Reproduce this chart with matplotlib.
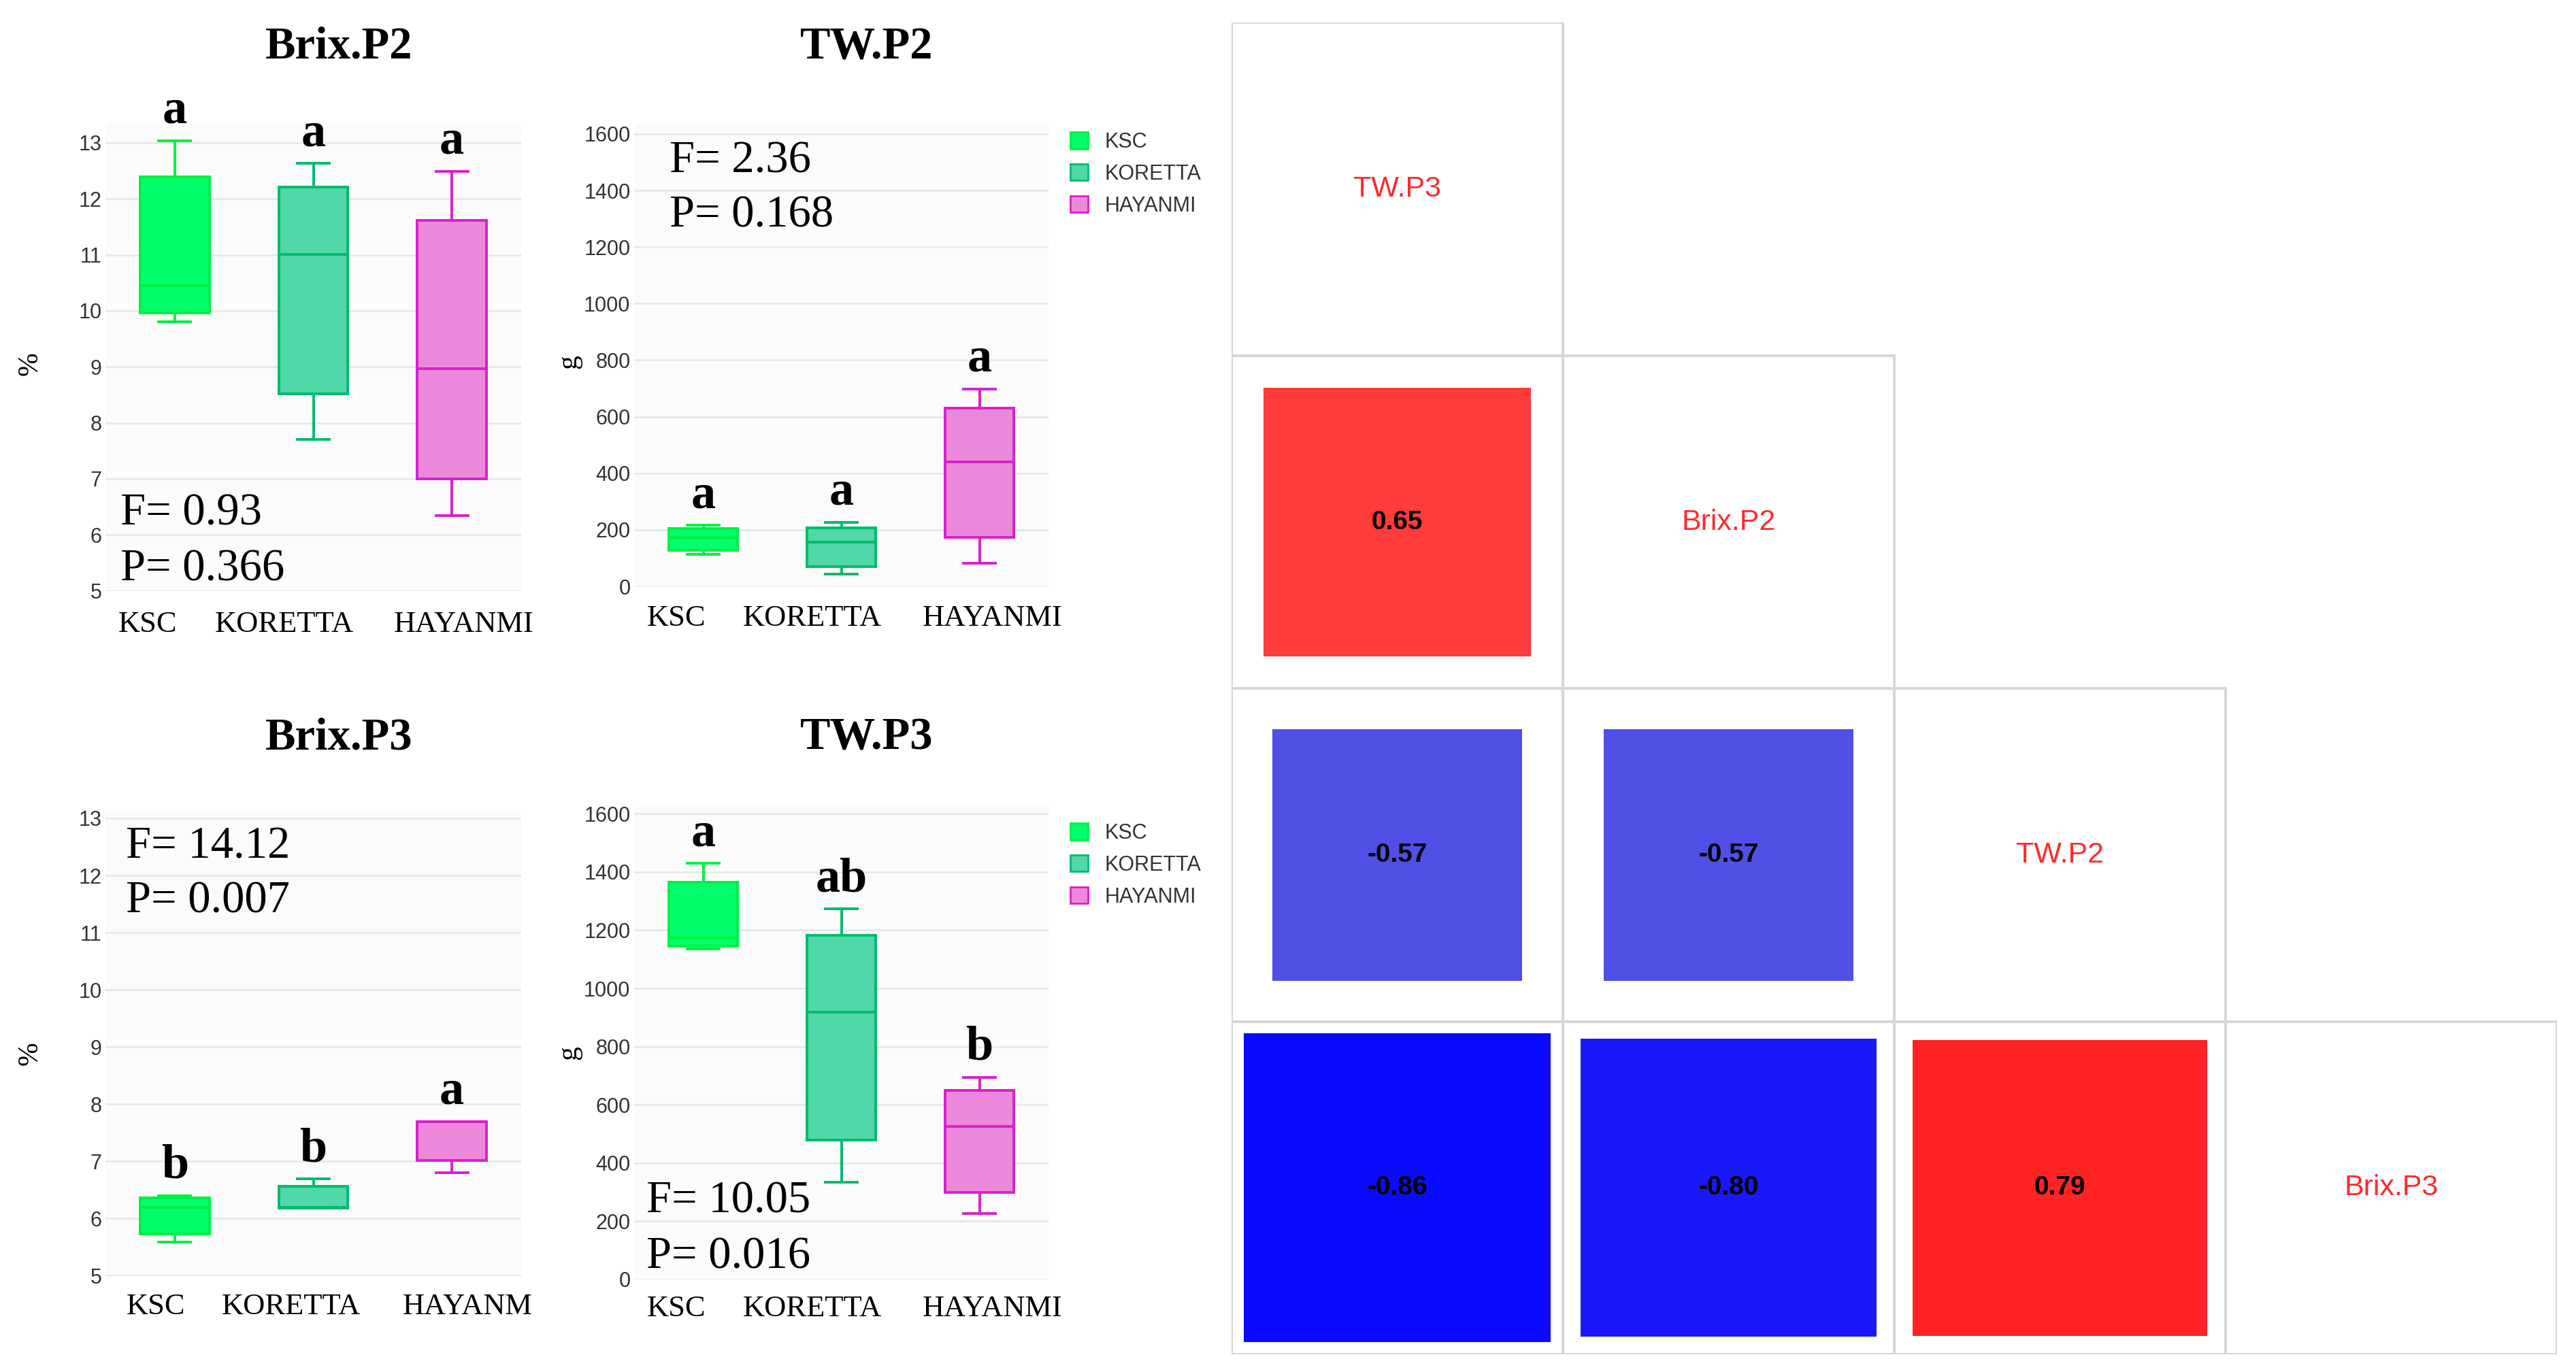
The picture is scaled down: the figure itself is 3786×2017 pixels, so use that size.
import numpy as np
import matplotlib
matplotlib.use("Agg")
import matplotlib.pyplot as plt
from matplotlib.patches import Patch, Rectangle
from matplotlib.colors import LinearSegmentedColormap

W, H = 3786, 2017
DPI = 100

SERIF = ['Liberation Serif', 'DejaVu Serif']
SANS = ['Liberation Sans', 'DejaVu Sans']

cultivars = ['KSC', 'KORETTA', 'HAYANMI']
box_face = ['#00FF6A', '#50D8A8', '#EC88DC']
box_edge = ['#00F040', '#00BB6A', '#D820C8']

# box statistics (lower whisker, Q1, median, Q3, upper whisker)
brix_p2_lo = [9.80, 7.70, 6.34]
brix_p2_q1 = [9.96, 8.52, 7.00]
brix_p2_med = [10.45, 11.01, 8.97]
brix_p2_q3 = [12.39, 12.21, 11.61]
brix_p2_hi = [13.04, 12.63, 12.49]
brix_p2_letters = ['a', 'a', 'a']

tw_p2_lo = [113, 43, 82]
tw_p2_q1 = [127, 69, 173]
tw_p2_med = [173, 157, 440]
tw_p2_q3 = [204, 208, 630]
tw_p2_hi = [216, 227, 698]
tw_p2_letters = ['a', 'a', 'a']

brix_p3_lo = [5.59, 6.18, 6.80]
brix_p3_q1 = [5.73, 6.18, 7.02]
brix_p3_med = [6.20, 6.19, 7.70]
brix_p3_q3 = [6.36, 6.57, 7.70]
brix_p3_hi = [6.40, 6.69, 7.70]
brix_p3_letters = ['b', 'b', 'a']

tw_p3_lo = [1136, 335, 227]
tw_p3_q1 = [1144, 479, 300]
tw_p3_med = [1174, 919, 525]
tw_p3_q3 = [1364, 1182, 649]
tw_p3_hi = [1430, 1273, 695]
tw_p3_letters = ['a', 'ab', 'b']

# ANOVA results printed on each panel
brix_p2_fp = ('F= 0.93', 'P= 0.366')
tw_p2_fp = ('F= 2.36', 'P= 0.168')
brix_p3_fp = ('F= 14.12', 'P= 0.007')
tw_p3_fp = ('F= 10.05', 'P= 0.016')

# correlation matrix (lower triangle)
corr_vars = ['TW.P3', 'Brix.P2', 'TW.P2', 'Brix.P3']
corr_vals = np.array([
    [1.00, np.nan, np.nan, np.nan],
    [0.65, 1.00, np.nan, np.nan],
    [-0.57, -0.57, 1.00, np.nan],
    [-0.86, -0.80, 0.79, 1.00],
])


def fx(x):
    return x / W


def fy(y):
    return 1 - y / H


fig = plt.figure(figsize=(W / DPI, H / DPI), dpi=DPI)
fig.patch.set_facecolor('white')


def box_panel(rect, ylim, yticks, lo, q1, med, q3, hi, letters, title, title_pos,
              fp, fp_pos, xlabels, xlab_x, xlab_y, ylab, ylab_pos, legend_pos=None):
    left, top, right, bottom = rect
    ax = fig.add_axes([fx(left), fy(bottom), (right - left) / W, (bottom - top) / H])
    ax.set_facecolor('#FBFBFB')
    for s in ax.spines.values():
        s.set_visible(False)
    stats = [dict(whislo=lo[i], q1=q1[i], med=med[i], q3=q3[i], whishi=hi[i], fliers=[])
             for i in range(len(cultivars))]
    bp = ax.bxp(stats, positions=range(len(cultivars)), widths=0.5, capwidths=0.23,
                patch_artist=True, showfliers=False, manage_ticks=False)
    for i in range(len(cultivars)):
        bp['boxes'][i].set(facecolor=box_face[i], edgecolor=box_edge[i], linewidth=2.8)
        bp['medians'][i].set(color=box_edge[i], linewidth=2.8)
        for ln in bp['whiskers'][2 * i:2 * i + 2] + bp['caps'][2 * i:2 * i + 2]:
            ln.set(color=box_edge[i], linewidth=2.8)
        ax.annotate(letters[i], xy=(i, hi[i]), xytext=(0, 26), textcoords='offset pixels',
                    ha='center', va='baseline', fontsize=52, fontweight='bold',
                    family=SERIF, annotation_clip=False)
    ax.set_xlim(-0.5, 2.5)
    ax.set_ylim(*ylim)
    ax.set_yticks(yticks)
    ax.set_xticks([])
    ax.tick_params(axis='y', length=0, pad=4, labelsize=22, labelcolor='#333333')
    for t in ax.get_yticklabels():
        t.set_family(SANS)
    ax.yaxis.grid(True, color='#E8E8E8', linewidth=2)
    ax.set_axisbelow(True)

    fig.text(fx(title_pos[0]), fy(title_pos[1]), title, ha='center', va='baseline',
             fontsize=48, fontweight='bold', family=SERIF)
    fig.text(fx(fp_pos[0]), fy(fp_pos[1]), fp[0], ha='left', va='baseline',
             fontsize=48, family=SERIF)
    fig.text(fx(fp_pos[0]), fy(fp_pos[2]), fp[1], ha='left', va='baseline',
             fontsize=48, family=SERIF)
    for lab, x in zip(xlabels, xlab_x):
        fig.text(fx(x), fy(xlab_y), lab, ha='center', va='baseline', fontsize=32, family=SERIF)
    fig.text(fx(ylab_pos[0]), fy(ylab_pos[1]), ylab, ha='center', va='center',
             rotation=90, fontsize=30, family=SERIF)
    if legend_pos is not None:
        handles = [Patch(facecolor=box_face[i], edgecolor=box_edge[i], linewidth=2)
                   for i in range(len(cultivars))]
        fig.legend(handles, cultivars, loc='upper left',
                   bbox_to_anchor=(fx(legend_pos[0]), fy(legend_pos[1])),
                   frameon=False, prop={'family': SANS, 'size': 22},
                   handlelength=0.85, handleheight=0.85, handletextpad=0.8,
                   labelspacing=0.55, borderpad=0, borderaxespad=0, labelcolor='#333333')
    return ax


box_panel((155, 179.5, 766, 868.6), (5, 13.37), range(5, 14),
          brix_p2_lo, brix_p2_q1, brix_p2_med, brix_p2_q3, brix_p2_hi, brix_p2_letters,
          'Brix.P2', (498, 86), brix_p2_fp, (177, 772, 853),
          ['KSC', 'KORETTA', 'HAYANMI'], [217, 418, 682], 929, '%', (44, 535))

box_panel((932, 179.5, 1541, 862), (0, 1642), range(0, 1601, 200),
          tw_p2_lo, tw_p2_q1, tw_p2_med, tw_p2_q3, tw_p2_hi, tw_p2_letters,
          'TW.P2', (1274, 86), tw_p2_fp, (984, 253, 333),
          ['KSC', 'KORETTA', 'HAYANMI'], [994, 1194, 1459], 920, 'g', (836, 532),
          legend_pos=(1573, 194))

box_panel((155, 1192, 766, 1875.5), (5, 13.13), range(5, 14),
          brix_p3_lo, brix_p3_q1, brix_p3_med, brix_p3_q3, brix_p3_hi, brix_p3_letters,
          'Brix.P3', (498, 1101), brix_p3_fp, (185, 1261, 1342),
          ['KSC', 'KORETTA', 'HAYANM'], [229, 428, 687], 1932, '%', (44, 1549))

box_panel((932, 1186, 1541, 1881), (0, 1624), range(0, 1601, 200),
          tw_p3_lo, tw_p3_q1, tw_p3_med, tw_p3_q3, tw_p3_hi, tw_p3_letters,
          'TW.P3', (1274, 1101), tw_p3_fp, (950, 1782, 1864),
          ['KSC', 'KORETTA', 'HAYANMI'], [994, 1194, 1459], 1935, 'g', (836, 1548),
          legend_pos=(1573, 1210))

# correlation plot
corr_cmap = LinearSegmentedColormap.from_list('corr', [
    (0.0, '#0000FF'), (0.07, '#0A0AFF'), (0.215, '#5050E6'),
    (0.5, '#FFFFFF'), (0.825, '#FF3C3C'), (1.0, '#FF0000')])

cax = fig.add_axes([fx(1810), fy(1991), (3758 - 1810) / W, (1991 - 33.5) / H])
cax.set_xlim(0, len(corr_vars))
cax.set_ylim(len(corr_vars), 0)
cax.axis('off')
n = len(corr_vars)
for i in range(n):
    for j in range(i + 1):
        cax.add_patch(Rectangle((j, i), 1, 1, fill=False, edgecolor='#D6D6D6',
                                linewidth=2.8, zorder=1))
        if i == j:
            cax.text(j + 0.5, i + 0.5, corr_vars[i], ha='center', va='center',
                     color='#FF2A2A', fontsize=31, family=SANS)
        else:
            r = corr_vals[i, j]
            side = np.sqrt(abs(r))
            cax.add_patch(Rectangle((j + 0.5 - side / 2, i + 0.5 - side / 2), side, side,
                                    facecolor=corr_cmap((r + 1) / 2), edgecolor='none',
                                    zorder=2))
            cax.text(j + 0.5, i + 0.5, f'{r:.2f}', ha='center', va='center',
                     color='black', fontsize=28, fontweight='bold', family=SANS, zorder=3)

fig.savefig('out.png', dpi=DPI)
